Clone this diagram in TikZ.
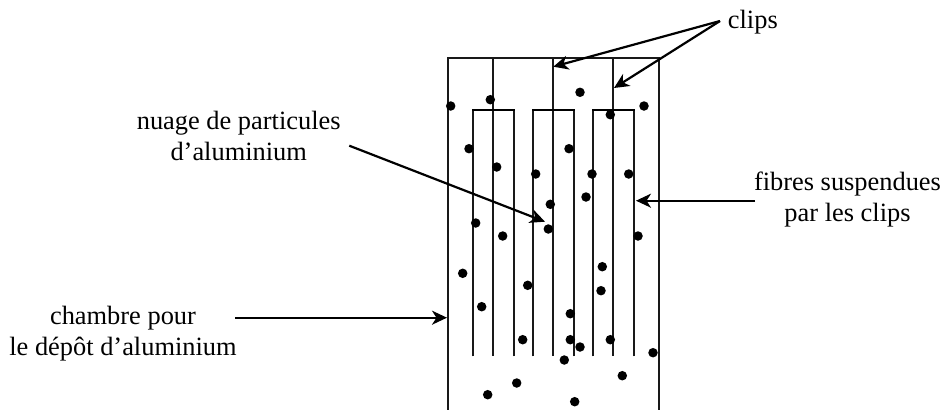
\documentclass[tikz,border=0pt]{standalone}
\usepackage{fontspec}
\setmainfont{Liberation Serif}
\usetikzlibrary{arrows.meta}
\usetikzlibrary{positioning}

\tikzset{
  wall/.style={line width=1.8pt,black!90},
  crossbar/.style={line width=2.2pt,line cap=rect},
  pointer/.style={-{Stealth[length=15pt,width=14pt,inset=4.5pt]},line width=2.2pt},
  label/.style={inner sep=0pt,align=center,font=\fontsize{26.4}{31}\selectfont},
  particle/.style={circle,fill=black,draw=none,inner sep=0pt,minimum width=8.5pt,minimum height=9.5pt},
}

\begin{document}
\begin{tikzpicture}[x=1pt,y=-1pt]
  \useasboundingbox (0,0) rectangle (946,410);

  % chamber walls
  \coordinate (wall_bl) at (447.7,410);
  \coordinate (wall_tl) at (447.7,58.3);
  \coordinate (wall_tr) at (659.3,58.3);
  \coordinate (wall_br) at (659.3,410);
  \draw[wall] (wall_bl) -- (wall_tl) -- (wall_tr) -- (wall_br);

  % clips with their two fibres
  \foreach \i/\xc in {0/493.3,1/553.3,2/613.3} {
    \coordinate (top_\i) at (\xc,58.3);
    \coordinate (end_\i) at (\xc,356.3);
    \coordinate (bar_l\i) at (\xc-20.5,110);
    \coordinate (bar_r\i) at (\xc+20.5,110);
    \coordinate (fib_l\i) at (\xc-20.5,356.3);
    \coordinate (fib_r\i) at (\xc+20.5,356.3);
    \draw[wall] (top_\i) -- (end_\i);
    \draw[wall] (fib_l\i) -- (bar_l\i);
    \draw[wall] (fib_r\i) -- (bar_r\i);
    \draw[crossbar] (bar_l\i) -- (bar_r\i);
  }

  % aluminium particles
  \foreach \i/\xp/\yp in {
      1/450.7/106, 2/490.3/99.7, 3/580/92.3, 4/644/106, 5/610.3/114.7,
      6/469/148.7, 7/569/148.7, 8/496.7/167, 9/535.7/174, 10/592/174,
      11/628.7/174, 12/586/197, 13/550.3/204.3, 14/475.7/223, 15/502.7/236,
      16/548.3/229, 17/638/236, 18/462.7/273.3, 19/602.3/266.7, 20/527.7/285.3,
      21/601/290.7, 22/481.7/306.7, 23/570.3/313.7, 24/522.7/339.7,
      25/570.3/339.7, 26/580/347, 27/610.3/339.7, 28/653/352.7, 29/564.3/360,
      30/622.3/375.7, 31/516.7/383, 32/487.7/394.7, 33/574.7/401.7} {
    \node[particle] (dot_\i) at (\xp,\yp) {};
  }

  % labels
  \node[label,anchor=base west] (clips) at (727.7,28) {clips};
  \node[label] (nuage) at (238.7,136) {nuage de particules\\d’aluminium};
  \node[label] (fibres) at (847.5,200) {fibres suspendues\\par les clips};
  \node[label] (chambre) at (123,334) {chambre pour\\le dépôt d’aluminium};

  % pointer ends
  \coordinate (clips_from) at (720,21);
  \coordinate (clip_tip1) at (553.3,66.7);
  \coordinate (clip_tip2) at (614,88);
  \coordinate (nuage_from) at (349.3,145.7);
  \coordinate (nuage_tip) at (545,221.7);
  \coordinate (fibres_from) at (755,200.7);
  \coordinate (fibres_tip) at (636,200.7);
  \coordinate (chambre_from) at (235,317.7);
  \coordinate (chambre_tip) at (447,317.7);

  \path[pointer]
    (clips_from)   edge (clip_tip1)
                   edge (clip_tip2)
    (nuage_from)   edge (nuage_tip)
    (fibres_from)  edge (fibres_tip)
    (chambre_from) edge (chambre_tip);
\end{tikzpicture}
\end{document}
